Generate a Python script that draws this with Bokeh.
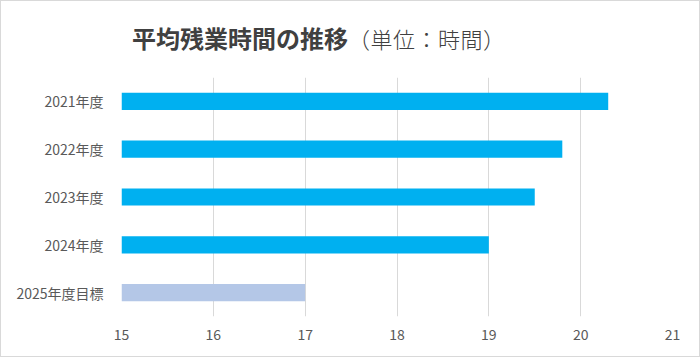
from bokeh.plotting import figure
from bokeh.models import FactorRange, Range1d, FixedTicker, ColumnDataSource, Div
from bokeh.layouts import column
from bokeh.embed import file_html
from bokeh.resources import INLINE

categories = ["2021年度", "2022年度", "2023年度", "2024年度", "2025年度目標"]
values = [20.3, 19.8, 19.5, 19.0, 17.0]
colors = ["#00B0F0", "#00B0F0", "#00B0F0", "#00B0F0", "#B4C7E7"]
x_ticks = [15, 16, 17, 18, 19, 20, 21]
title_main = "平均残業時間の推移"
title_unit = "（単位：時間）"

FONT = "Noto Sans CJK JP"

src = ColumnDataSource(dict(cat=categories, val=values, col=colors))

title_html = (
    '<div style="position:absolute;left:131px;top:22px;'
    "font-family:'Noto Sans CJK JP';font-size:24px;line-height:30px;"
    'color:#404040;white-space:nowrap">'
    '<span style="font-weight:bold">' + title_main + '</span>'
    '<span style="font-size:22px;font-weight:300;letter-spacing:0.5px">'
    + title_unit + '</span></div>'
)
title_div = Div(text=title_html, width=698, height=62, margin=0,
                styles={"position": "relative", "background": "white"})

p = figure(width=698, height=293, output_backend="svg", toolbar_location=None,
           y_range=FactorRange(factors=list(reversed(categories))),
           x_range=Range1d(15, 21), margin=0)
p.min_border_left = 120
p.min_border_right = 27
p.min_border_top = 14
p.min_border_bottom = 40
p.outline_line_color = None
p.background_fill_color = "white"
p.border_fill_color = "white"

p.hbar(y="cat", left=15, right="val", height=0.36, fill_color="col",
       line_color=None, source=src)

p.xaxis.ticker = FixedTicker(ticks=x_ticks)
p.xaxis.axis_line_color = None
p.xaxis.major_tick_line_color = None
p.xaxis.minor_tick_line_color = None
p.xaxis.major_label_text_font = FONT
p.xaxis.major_label_text_font_size = "14px"
p.xaxis.major_label_text_color = "#595959"
p.xaxis.major_label_standoff = 6

p.yaxis.axis_line_color = None
p.yaxis.major_tick_line_color = None
p.yaxis.minor_tick_line_color = None
p.yaxis.major_label_text_font = FONT
p.yaxis.major_label_text_font_size = "14px"
p.yaxis.major_label_text_color = "#595959"
p.yaxis.major_label_standoff = 12

p.xgrid.grid_line_color = "#d9d9d9"
p.ygrid.grid_line_color = None

layout = column(title_div, p, spacing=0,
                styles={"border": "1px solid #d9d9d9", "background": "white"})

open("out.html", "w").write(file_html(layout, INLINE))
